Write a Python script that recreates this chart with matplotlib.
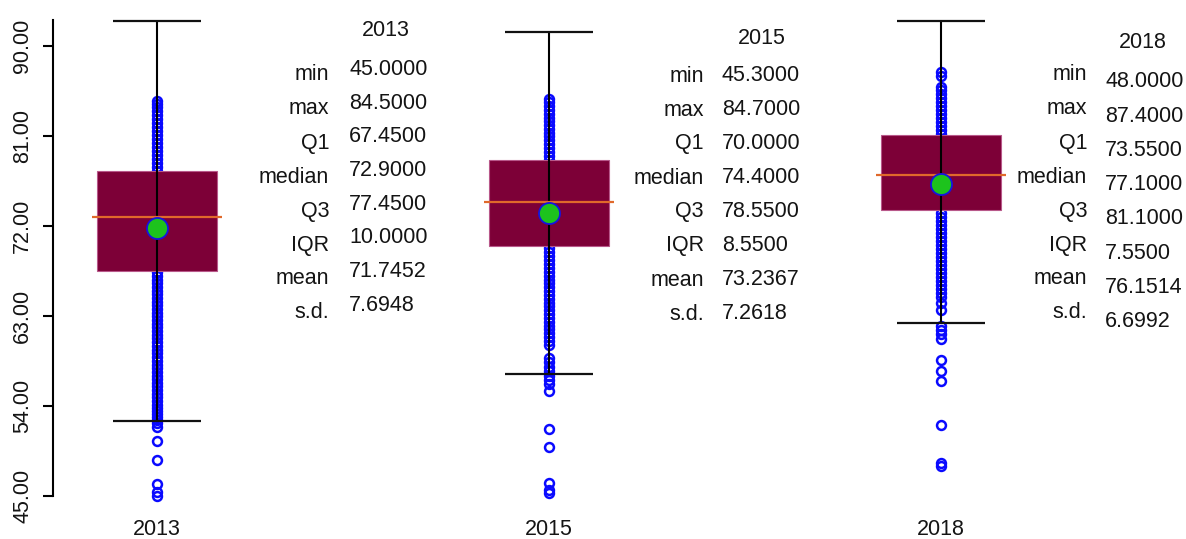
import matplotlib
matplotlib.use("Agg")
import matplotlib.pyplot as plt

plt.rcParams['font.family'] = ['Liberation Sans', 'DejaVu Sans']

# ---------------- data ----------------
years = ["2013", "2015", "2018"]
stat_names = ["min", "max", "Q1", "median", "Q3", "IQR", "mean", "s.d."]
mins = [45.0, 45.3, 48.0]
maxs = [84.5, 84.7, 87.4]
q1s = [67.45, 70.00, 73.55]
medians = [72.90, 74.40, 77.10]
q3s = [77.45, 78.55, 81.10]
iqrs = [10.00, 8.55, 7.55]
means = [71.7452, 73.2367, 76.1514]
sds = [7.6948, 7.2618, 6.6992]

pts_2013 = [45.0, 45.4, 46.2, 48.6, 50.5, 51.9, 52.3, 52.6, 52.9, 53.2, 53.5, 53.8,
            54.1, 54.5, 54.9, 55.2, 55.6, 56.0, 56.3, 56.7, 57.0, 57.4, 57.8, 58.1,
            58.5, 58.9, 59.3, 59.6, 60.0, 60.4, 60.8, 61.1, 61.5, 61.9, 62.2, 62.6,
            63.0, 63.3, 63.7, 64.1, 64.4, 64.8, 65.2, 65.5, 65.9, 66.3, 66.6, 67.0,
            67.4, 68.5, 70.0, 72.0, 74.0, 76.0, 77.5, 77.9, 78.3, 78.7, 79.1, 79.5,
            79.9, 80.3, 80.7, 81.1, 81.5, 81.9, 82.3, 82.7, 83.1, 83.5, 83.9, 84.2, 84.5]
pts_2015 = [45.3, 45.6, 46.3, 49.9, 51.7, 55.5, 56.2, 56.6, 57.0, 57.5, 57.9, 58.4,
            58.8, 60.1, 60.5, 60.9, 61.3, 61.7, 62.0, 62.4, 62.8, 63.2, 63.6, 64.0,
            64.3, 64.7, 65.1, 65.5, 65.9, 66.3, 66.6, 67.0, 67.4, 67.8, 68.2, 68.6,
            69.0, 69.4, 69.8, 71.0, 73.0, 75.0, 77.0, 78.6, 79.0, 79.4, 79.8, 80.2,
            80.6, 81.0, 81.3, 81.7, 82.1, 82.5, 82.8, 83.2, 83.6, 84.0, 84.4, 84.7]
pts_2018 = [48.0, 48.3, 52.1, 56.5, 57.5, 58.6, 60.7, 61.2, 61.6, 62.0, 63.6, 64.3,
            64.9, 65.3, 65.7, 66.1, 66.5, 66.9, 67.3, 67.7, 68.1, 68.5, 68.9, 69.3,
            69.7, 70.1, 70.5, 70.9, 71.3, 71.7, 72.1, 72.5, 72.9, 73.3, 74.5, 76.5,
            78.5, 80.5, 81.2, 81.6, 82.0, 82.4, 82.8, 83.2, 83.6, 84.0, 84.4, 84.8,
            85.2, 85.6, 85.9, 87.0, 87.4]
points = [pts_2013, pts_2015, pts_2018]

yticks = [45, 54, 63, 72, 81, 90]

# ---------------- layout ----------------
W, H = 1186, 539
FS = 15.5
TXT = '#141414'
fig = plt.figure(figsize=(W / 100, H / 100), dpi=100)
ax_left_px, ax_bot_px = 53.3, 505
ax = fig.add_axes([ax_left_px / W, (H - ax_bot_px) / H, 1 - ax_left_px / W, ax_bot_px / H])

pos = [1, 2, 3]
scale = 392.0
ax.set_xlim(1 - (157 - ax_left_px) / scale, 1 + (W - 157) / scale)
ax.set_ylim(90 - (ax_bot_px - 45.7) / 10.0, 90 + 45.7 / 10.0)

box_w = 120 / scale
cap_w = 88 / scale
med_w = 130 / scale

for i, p in enumerate(pos):
    lo = q1s[i] - 1.5 * iqrs[i]
    hi = q3s[i] + 1.5 * iqrs[i]
    ax.plot([p] * len(points[i]), points[i], linestyle='none', marker='o',
            markersize=6.4, markerfacecolor='none', markeredgecolor='#0A0AFF',
            markeredgewidth=1.8, zorder=2)
    ax.bar(p, q3s[i] - q1s[i], bottom=q1s[i], width=box_w, color='#7D0037',
           edgecolor='#B8588A', linewidth=0.8, zorder=3)
    ax.vlines(p, lo, hi, color='black', linewidth=1.5, zorder=4)
    ax.hlines([lo, hi], p - cap_w / 2, p + cap_w / 2, color='#111111', linewidth=1.6, zorder=4)
    ax.hlines(medians[i], p - med_w / 2, p + med_w / 2, color='#E0692B', linewidth=1.6, zorder=5)
    ax.scatter([p], [means[i]], s=230, color='#1DC31D', edgecolor='#1515E0',
               linewidth=1.3, zorder=6)

# axes styling
for s in ['top', 'right', 'bottom']:
    ax.spines[s].set_visible(False)
ax.spines['left'].set_bounds(45, 92.6)
ax.spines['left'].set_linewidth(1.5)
ax.set_yticks(yticks)
ax.set_yticklabels(["%.2f" % v for v in yticks], rotation=90, va='center', fontsize=FS,
                   color=TXT)
ax.tick_params(axis='y', length=7.5, width=1.5, pad=7)
ax.set_xticks(pos)
ax.set_xticklabels(years, fontsize=FS, color=TXT)
ax.tick_params(axis='x', length=0, pad=10)

# stats text blocks (figure pixel coordinates)
blocks = [
    dict(title=(386, 30), lab_x=329, lab_y0=75, lab_dy=34.0, val_x=349, val_y0=69.5, val_dy=33.7),
    dict(title=(762, 38), lab_x=704, lab_y0=76, lab_dy=34.0, val_x=722, val_y0=75.5, val_dy=34.0),
    dict(title=(1143, 43), lab_x=1087, lab_y0=75, lab_dy=34.0, val_x=1105, val_y0=81.7, val_dy=34.3),
]


def fx(x):
    return x / W


def fy(y):
    return 1 - y / H


for i, b in enumerate(blocks):
    vals = [mins[i], maxs[i], q1s[i], medians[i], q3s[i], iqrs[i], means[i], sds[i]]
    fig.text(fx(b['title'][0]), fy(b['title'][1]), years[i], ha='center', va='center',
             fontsize=FS, color=TXT)
    for k, name in enumerate(stat_names):
        fig.text(fx(b['lab_x']), fy(b['lab_y0'] + k * b['lab_dy']), name, ha='right',
                 va='center', fontsize=FS, color=TXT)
        fig.text(fx(b['val_x']), fy(b['val_y0'] + k * b['val_dy']), "%.4f" % vals[k],
                 ha='left', va='center', fontsize=FS, color=TXT)

fig.savefig("out.png", dpi=100)
